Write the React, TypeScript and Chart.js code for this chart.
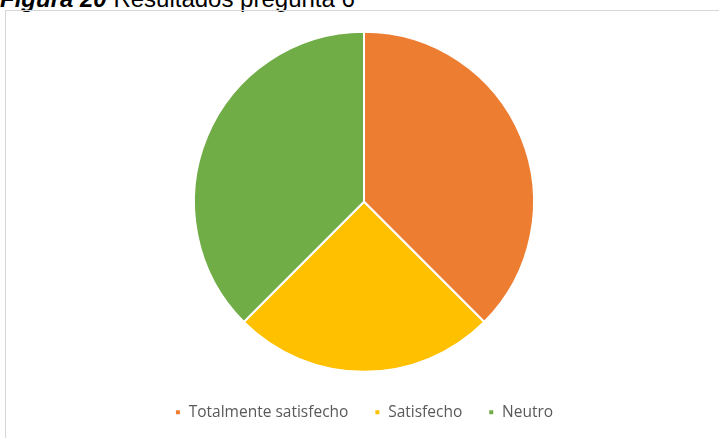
import React, { useEffect, useRef } from "react";
import { Chart, registerables } from "chart.js";

Chart.register(...registerables);

const categories: string[] = ["Totalmente satisfecho", "Satisfecho", "Neutro"];
const values: number[] = [3, 2, 3];
const colors: string[] = ["#ED7D31", "#FFC000", "#70AD47"];

export default function App() {
  const canvasRef = useRef<HTMLCanvasElement | null>(null);

  useEffect(() => {
    if (!canvasRef.current) return;
    const chart = new Chart(canvasRef.current, {
      type: "pie",
      data: {
        labels: categories,
        datasets: [
          {
            data: values,
            backgroundColor: colors,
            borderColor: "#ffffff",
            borderWidth: 2,
            radius: 170,
          },
        ],
      },
      options: {
        animation: false,
        responsive: false,
        maintainAspectRatio: false,
        layout: { padding: { top: 14, bottom: 8, left: 3, right: 0 } },
        plugins: {
          tooltip: { enabled: false },
          legend: {
            position: "bottom",
            labels: {
              boxWidth: 6,
              boxHeight: 6,
              padding: 26,
              color: "#595959",
              font: { family: "'Open Sans', sans-serif", size: 15.5 },
            },
          },
        },
      },
    });
    return () => chart.destroy();
  }, []);

  return (
    <div
      style={{
        position: "absolute",
        left: 0,
        top: 0,
        width: 719,
        height: 438,
        overflow: "hidden",
        background: "#ffffff",
      }}
    >
      <div
        style={{
          position: "absolute",
          left: 0,
          top: -13,
          whiteSpace: "nowrap",
          fontFamily: "'Liberation Sans', Arial, sans-serif",
          fontSize: 24,
          lineHeight: "24px",
          color: "#000000",
        }}
      >
        <b>
          <i>Figura 20</i>
        </b>{" "}
        Resultados pregunta 6
      </div>
      <div
        style={{
          position: "absolute",
          left: 5,
          top: 10,
          width: 720,
          height: 440,
          border: "1px solid #d6d6d6",
          boxSizing: "border-box",
        }}
      />
      <canvas
        ref={canvasRef}
        width={713}
        height={427}
        style={{ position: "absolute", left: 6, top: 11, width: 713, height: 427 }}
      />
    </div>
  );
}
